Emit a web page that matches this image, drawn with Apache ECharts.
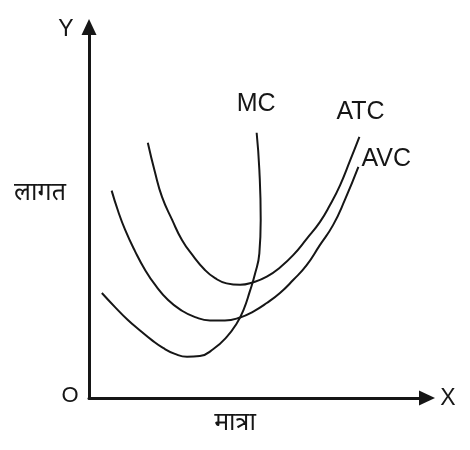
<!DOCTYPE html>
<html>
<head>
<meta charset="utf-8">
<script src="https://cdn.jsdelivr.net/npm/echarts@6/dist/echarts.min.js"></script>
<style>html,body{margin:0;padding:0;background:#fff}#c{width:470px;height:450px}</style>
</head>
<body>
<div id="c"></div>
<script>
// Curve names
const seriesNames = ['ATC', 'AVC', 'MC'];
// Average total cost [quantity, cost]
const atc = [[17.4,68.8],[19.5,60.9],[21.6,54.2],[24.6,48.0],[27.5,42.6],[30.8,38.3],[34.3,34.5],[37.3,32.3],[40.7,30.9],[44.7,30.5],[48.6,31.2],[52.6,32.7],[56.5,35.2],[60.4,38.5],[64.4,42.9],[68.3,47.4],[71.3,52.0],[74.3,57.4],[77.2,63.9],[80.0,70.4]];
// Average variable cost
const avc = [[6.7,55.9],[8.6,50.4],[10.7,45.3],[13.6,39.6],[16.6,34.5],[19.8,30.2],[23.4,26.4],[27.2,23.7],[31.4,21.8],[35.8,20.9],[40.2,20.9],[44.7,21.7],[48.6,23.3],[52.6,25.6],[56.5,28.3],[60.4,31.8],[64.4,35.8],[68.3,41.2],[72.2,46.6],[75.7,53.4],[79.7,62.3]];
// Marginal cost
const mc = [[3.8,28.3],[7.7,24.5],[11.5,21.0],[15.1,18.2],[18.6,15.6],[21.9,13.5],[25.4,11.9],[29.0,11.1],[32.8,11.3],[36.8,13.2],[40.7,16.4],[43.7,20.1],[45.7,23.7],[47.6,28.8],[49.1,33.4],[50.4,39.0],[50.8,48.0],[50.4,61.5],[49.6,71.5]];
// Axis labels
const xAxisLabel = 'मात्रा';
const yAxisLabel = 'लागत';
const xLetter = 'X', yLetter = 'Y', originLetter = 'O';

const ink = '#161616';
const latin = 'Liberation Sans, Arial, sans-serif';
const deva = 'Noto Sans, sans-serif';

const chart = echarts.init(document.getElementById('c'), null, {renderer: 'canvas'});
const axisCommon = {
  type: 'value', min: 0, max: 100,
  axisTick: {show: false}, axisLabel: {show: false}, splitLine: {show: false},
  axisLine: {show: true, symbol: ['none', 'triangle'], symbolSize: [15, 16], lineStyle: {color: ink, width: 3}}
};
function curve(name, data, offset) {
  return {
    name: name, type: 'line', smooth: 0.5, showSymbol: false, symbol: 'none',
    lineStyle: {color: ink, width: 2}, data: data,
    endLabel: {show: true, formatter: name, distance: 0, offset: offset,
      fontFamily: latin, fontSize: 25, color: ink}
  };
}
chart.setOption({
  animation: false,
  grid: {left: 89, right: 43, top: 27, bottom: 52},
  xAxis: Object.assign({}, axisCommon),
  yAxis: Object.assign({}, axisCommon),
  series: [
    curve(seriesNames[0], atc, [-23, -25]),
    curve(seriesNames[1], avc, [3, -8]),
    curve(seriesNames[2], mc, [-20, -29])
  ],
  graphic: [
    {type: 'text', x: 66, y: 30, style: {text: yLetter, align: 'center', verticalAlign: 'middle', fill: ink, fontSize: 23, fontFamily: latin}},
    {type: 'text', x: 448, y: 399, style: {text: xLetter, align: 'center', verticalAlign: 'middle', fill: ink, fontSize: 23, fontFamily: latin}},
    {type: 'text', x: 70, y: 396, style: {text: originLetter, align: 'center', verticalAlign: 'middle', fill: ink, fontSize: 22, fontFamily: latin}},
    {type: 'text', x: 40, y: 193, style: {text: yAxisLabel, align: 'center', verticalAlign: 'middle', fill: ink, fontSize: 25, fontFamily: deva}},
    {type: 'text', x: 235, y: 423, style: {text: xAxisLabel, align: 'center', verticalAlign: 'middle', fill: ink, fontSize: 25, fontFamily: deva}}
  ]
});
</script>
</body>
</html>
